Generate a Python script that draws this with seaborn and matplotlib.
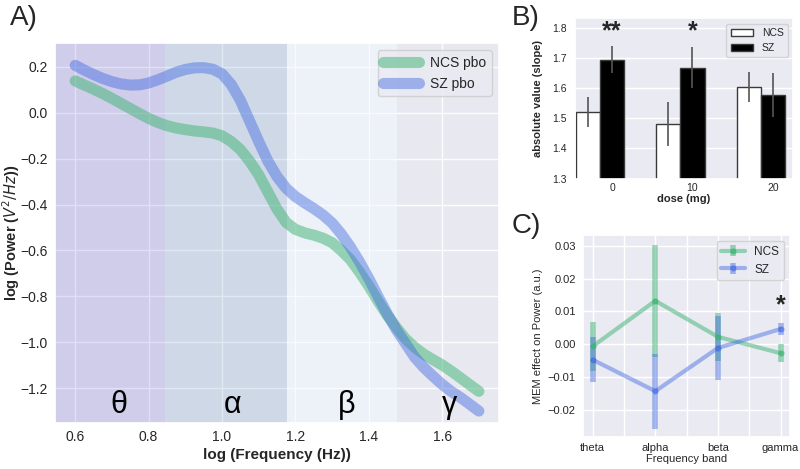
import matplotlib
matplotlib.use('Agg')
import matplotlib.pyplot as plt
import seaborn as sns
import pandas as pd
import numpy as np

# --- panel A: power spectra (log-log), every 0.025
log_freq = [0.600, 0.625, 0.650, 0.675, 0.700, 0.725, 0.750, 0.775, 0.800, 0.825, 0.850, 0.875,
            0.900, 0.925, 0.950, 0.975, 1.000, 1.025, 1.050, 1.075, 1.100, 1.125, 1.150, 1.175,
            1.200, 1.225, 1.250, 1.275, 1.300, 1.325, 1.350, 1.375, 1.400, 1.425, 1.450, 1.475,
            1.500, 1.525, 1.550, 1.575, 1.600, 1.625, 1.650, 1.675, 1.700]
ncs_pbo = [0.139, 0.121, 0.103, 0.084, 0.063, 0.041, 0.019, -0.003, -0.024, -0.042, -0.056, -0.066,
           -0.073, -0.079, -0.083, -0.088, -0.100, -0.125, -0.160, -0.210, -0.270, -0.345, -0.420, -0.478,
           -0.508, -0.523, -0.533, -0.546, -0.566, -0.600, -0.640, -0.695, -0.755, -0.820, -0.882, -0.935,
           -0.985, -1.022, -1.052, -1.076, -1.099, -1.126, -1.155, -1.185, -1.214]
sz_pbo = [0.207, 0.186, 0.167, 0.150, 0.136, 0.126, 0.121, 0.122, 0.130, 0.144, 0.160, 0.177,
          0.189, 0.196, 0.197, 0.190, 0.170, 0.124, 0.055, -0.035, -0.125, -0.210, -0.278, -0.329,
          -0.365, -0.392, -0.417, -0.445, -0.480, -0.528, -0.585, -0.650, -0.722, -0.800, -0.875, -0.945,
          -1.005, -1.065, -1.110, -1.148, -1.184, -1.215, -1.241, -1.270, -1.300]
band_edges = [0.50, 0.845, 1.176, 1.477, 1.80]   # log10 of 7, 15, 30 Hz
band_letters = ['θ', 'α', 'β', 'γ']

# --- panel B: slope by dose
dose = ['0', '10', '20']
ncs_slope = [1.521, 1.481, 1.602]
sz_slope = [1.694, 1.667, 1.578]
ncs_slope_err = [0.050, 0.072, 0.050]
sz_slope_err = [0.045, 0.067, 0.073]
slope_stars = ['**', '*', '']

# --- panel C: MEM effect per band
bands = ['theta', 'alpha', 'beta', 'gamma']
ncs_mem = [-0.0007, 0.0132, 0.0022, -0.0028]
ncs_mem_err = [0.0075, 0.0172, 0.0074, 0.0027]
sz_mem = [-0.0048, -0.0144, -0.0012, 0.0046]
sz_mem_err = [0.0068, 0.0114, 0.0098, 0.0018]

sns.set_theme(style='darkgrid')
plt.rcParams['font.family'] = ['Liberation Sans', 'DejaVu Sans']
plt.rcParams['xtick.major.size'] = 0
plt.rcParams['ytick.major.size'] = 0
plt.rcParams['xtick.minor.size'] = 0

fig = plt.figure(figsize=(8, 4.69), dpi=100)

# ---------------- A
axA = fig.add_axes([0.0688, 0.0981, 0.555, 0.810])
span_cols = [('slateblue', 0.2), ('steelblue', 0.17), ('aliceblue', 0.5), ('silver', 0.04)]
for i, (c, a) in enumerate(span_cols):
    axA.axvspan(band_edges[i], band_edges[i + 1], color=c, alpha=a, lw=0, zorder=0.6)

sns.lineplot(x=log_freq, y=ncs_pbo, ax=axA, color='mediumseagreen', alpha=0.5, lw=8,
             solid_capstyle='round', solid_joinstyle='round', label='NCS pbo', zorder=2)
sns.lineplot(x=log_freq, y=sz_pbo, ax=axA, color='royalblue', alpha=0.45, lw=8,
             solid_capstyle='round', solid_joinstyle='round', label='SZ pbo', zorder=3)

letter_x = [0.72, 1.03, 1.34, 1.62]
for lx, lt in zip(letter_x, band_letters):
    axA.text(lx, -1.31, lt, fontsize=22, ha='center', va='baseline', color='black')

axA.set_xlim(0.545, 1.755)
axA.set_ylim(-1.352, 0.304)
axA.tick_params(labelsize=10, pad=5)
axA.set_xlabel('log (Frequency (Hz))', fontsize=11, fontweight='bold', labelpad=3)
axA.set_ylabel(r'log (Power ($V^2/Hz$))', fontsize=10.5, fontweight='bold')
axA.yaxis.set_label_coords(-0.074, 0.5)
axA.legend(loc='upper right', fontsize=10, handlelength=2.6)

# ---------------- B
axB = fig.add_axes([0.7188, 0.6192, 0.2725, 0.3414])
df_b = pd.DataFrame({'dose': dose * 2,
                     'slope': ncs_slope + sz_slope,
                     'group': ['NCS'] * 3 + ['SZ'] * 3})
sns.barplot(data=df_b, x='dose', y='slope', hue='group', ax=axB,
            palette={'NCS': 'white', 'SZ': 'black'}, width=0.6, errorbar=None,
            saturation=1, edgecolor='#3a3a3a', linewidth=1)
for cont, errs in zip(axB.containers, [ncs_slope_err, sz_slope_err]):
    xs = [p.get_x() + p.get_width() / 2 for p in cont]
    ys = [p.get_height() for p in cont]
    axB.errorbar(xs, ys, yerr=errs, fmt='none', ecolor='#555555', elinewidth=1.2,
                 capsize=0, zorder=4)
sz_centers = [p.get_x() + p.get_width() / 2 for p in axB.containers[1]]
axB.set_xticks(sz_centers, dose)
for xc, st in zip(sz_centers, slope_stars):
    axB.text(xc, 1.787, st, fontsize=18, fontweight='bold', ha='center', va='center')
axB.set_xlim(sz_centers[0] - 0.46, sz_centers[-1] + 0.25)
axB.set_ylim(1.3, 1.83)
axB.tick_params(labelsize=7.5, pad=3)
axB.tick_params(axis='y', pad=6)
axB.set_xlabel('dose (mg)', fontsize=8, fontweight='bold', labelpad=1)
axB.set_ylabel('absolute value (slope)', fontsize=8, fontweight='bold')
axB.yaxis.set_label_coords(-0.147, 0.5)
sns.move_legend(axB, 'upper right', title=None, fontsize=7.5, handlelength=2.2)

# ---------------- C
axC = fig.add_axes([0.7291, 0.0689, 0.2584, 0.4300])
pos = np.arange(len(bands))
axC.errorbar(pos, ncs_mem, yerr=ncs_mem_err, fmt='-o', color='mediumseagreen', alpha=0.5,
             lw=3, elinewidth=4, ms=3.5, label='NCS')
axC.errorbar(pos, sz_mem, yerr=sz_mem_err, fmt='-o', color='royalblue', alpha=0.45,
             lw=3, elinewidth=4, ms=3.5, label='SZ')
axC.text(3, 0.0117, '*', fontsize=18, fontweight='bold', ha='center', va='center')
axC.set_xticks(pos, bands)
axC.set_xticks(pos[:-1] + 0.5, minor=True)
axC.grid(which='minor', axis='x', color='white', lw=1)
axC.set_xlim(-0.15, 3.15)
axC.set_ylim(-0.0283, 0.0333)
axC.tick_params(labelsize=8, pad=4.5)
axC.tick_params(axis='y', pad=5.5)
axC.set_xlabel('Frequency band', fontsize=8, labelpad=1)
axC.set_ylabel('MEM effect on Power (a.u.)', fontsize=8)
axC.yaxis.set_label_coords(-0.195, 0.5)
axC.legend(loc='upper right', fontsize=8.5)

# panel letters
fig.text(0.0125, 1 - 25 / 469, 'A)', fontsize=20, va='baseline')
fig.text(0.64, 1 - 25 / 469, 'B)', fontsize=20, va='baseline')
fig.text(0.64, 1 - 233 / 469, 'C)', fontsize=20, va='baseline')

fig.savefig('out.png', dpi=100)
